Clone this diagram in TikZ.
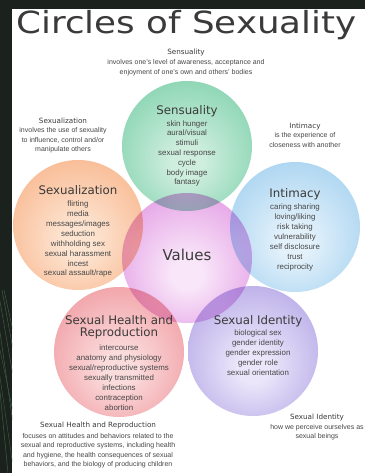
\documentclass[tikz,border=0pt]{standalone}
\usepackage{fontspec}
\setmainfont{Liberation Sans}
\newfontfamily\headfont{DejaVu Sans}

\definecolor{frame}{HTML}{1B211C}
\definecolor{leaf}{HTML}{3E5C46}
\definecolor{inkdark}{HTML}{3A3A3A}
\definecolor{ink}{HTML}{474747}
\colorlet{cin}{white}
\colorlet{cout}{gray}

% soft radial fill: light spot a little below the centre, saturated rim
\pgfdeclareradialshading[cin,cout]{softball}{\pgfpoint{0bp}{-7bp}}{%
  color(0bp)=(cin); color(6bp)=(cin); color(46bp)=(cout); color(50bp)=(cout)}

% set the two shading colours
\newcommand\ringcolors[2]{\definecolor{cin}{HTML}{#1}\definecolor{cout}{HTML}{#2}}

\newcommand\stackstep{9.9}
% a centred column of text lines, one node per line
\newcommand\stack[5]{%
  \foreach \t [count=\i from 0] in {#5} {\node[#2] (#1-\i) at (#3, #4+\stackstep*\i) {\t};}}

\tikzset{
  x=1pt, y=-1pt,
  txt/.style={inner sep=0, anchor=mid, text=ink},
  body/.style={txt, font=\fontsize{7.9}{9}\selectfont},
  note/.style={txt, font=\fontsize{7}{8}\selectfont},
  notehead/.style={txt, text=inkdark, font=\headfont\fontsize{7.2}{8}\selectfont},
  ringhead/.style={txt, text=inkdark, font=\headfont\fontsize{11.8}{13}\selectfont},
  ring/.style={circle, minimum size=130pt, inner sep=0, shading=softball},
}

\begin{document}
\begin{tikzpicture}
\useasboundingbox (0,0) rectangle (365,473);
% page frame and white sheet
\fill[frame] (0,0) rectangle (365,473);
\fill[white] (12,9) rectangle (365,473);
% leaf strokes along the left margin
\begin{scope}
  \clip (0,250) rectangle (12,473);
  \foreach \a/\b in {-6/20, -2/30, 2/36, -10/8, 4/44}
    \draw[leaf, line width=0.5pt] (\a,290) -- (\b,473);
  \foreach \a/\b in {-4/14, 0/26}
    \draw[leaf, line width=0.4pt] (\a,350) -- (\b,473);
\end{scope}

% title
\node[inner sep=0, anchor=base, text=inkdark,
      font=\headfont\fontsize{30.5}{31}\selectfont] (title) at (186.5,33.5)
  {\scalebox{1.17}[1]{Circles of Sexuality}};

% the six circles
\begin{scope}[blend mode=multiply]
  \ringcolors{F9E6F9}{D878DA}
  \node[ring] (val) at (187,258) {};
  \ringcolors{CFEEDE}{5CC497}
  \node[ring] (sen) at (187,146) {};
  \ringcolors{FDE4D1}{F6A06C}
  \node[ring] (sxz) at (78,225) {};
  \ringcolors{E3F1FB}{86C2EA}
  \node[ring] (int) at (295,227) {};
  \ringcolors{FBDCDD}{EA7C84}
  \node[ring] (hea) at (119,352) {};
  \ringcolors{EBE6FA}{9B8ADD}
  \node[ring] (ide) at (253,351) {};
\end{scope}

% circle contents
\node[txt, text=inkdark, font=\headfont\fontsize{15}{16}\selectfont] (valtxt) at (val) {Values};

\node[ringhead] (senhead) at (187,112) {Sensuality};
\renewcommand\stackstep{9.8}
\stack{senl}{body}{187}{123.5}{skin hunger, aural/visual, stimuli, sexual response, cycle, body image, fantasy}

\node[ringhead] (sxzhead) at (78,192) {Sexualization};
\renewcommand\stackstep{9.9}
\stack{sxzl}{body}{78}{204}{flirting, media, messages/images, seduction, withholding sex, sexual harassment, incest, sexual assault/rape}

\node[ringhead] (inthead) at (295,195) {Intimacy};
\stack{intl}{body}{295}{207}{caring sharing, loving/liking, risk taking, vulnerability, self disclosure, trust, reciprocity}

\node[ringhead] (heahead) at (119,322) {Sexual Health and};
\node[ringhead] (heahead2) at (119,334) {Reproduction};
\stack{heal}{body}{119}{348}{intercourse, anatomy and physiology, sexual/reproductive systems, sexually transmitted, infections, contraception, abortion}

\node[ringhead] (idehead) at (258,322) {Sexual Identity};
\renewcommand\stackstep{10}
\stack{idel}{body}{258}{333}{biological sex, gender identity, gender expression, gender role, sexual orientation}

% explanatory notes
\renewcommand\stackstep{9.5}
\node[notehead] (nsen) at (186,52) {Sensuality};
\stack{nsenl}{note}{186}{62}{{involves one's level of awareness, acceptance and}, enjoyment of one's own and others' bodies}

\node[notehead] (nsxz) at (63,121) {Sexualization};
\stack{nsxzl}{note}{63}{130}{involves the use of sexuality, {to influence, control and/or}, manipulate others}

\node[notehead] (nint) at (305,126) {Intimacy};
\stack{nintl}{note}{305}{135}{is the experience of, closeness with another}

\node[notehead] (nhea) at (98,425) {Sexual Health and Reproduction};
\stack{nheal}{note}{98}{435.5}{focuses on attitudes and behaviors related to the, {sexual and reproductive systems, including health}, {and hygiene, the health consequences of sexual}, {behaviors, and the biology of producing children}}

\node[notehead] (nide) at (317,417) {Sexual Identity};
\stack{nidel}{note}{317}{426.5}{how we perceive ourselves as, sexual beings}
\end{tikzpicture}
\end{document}
